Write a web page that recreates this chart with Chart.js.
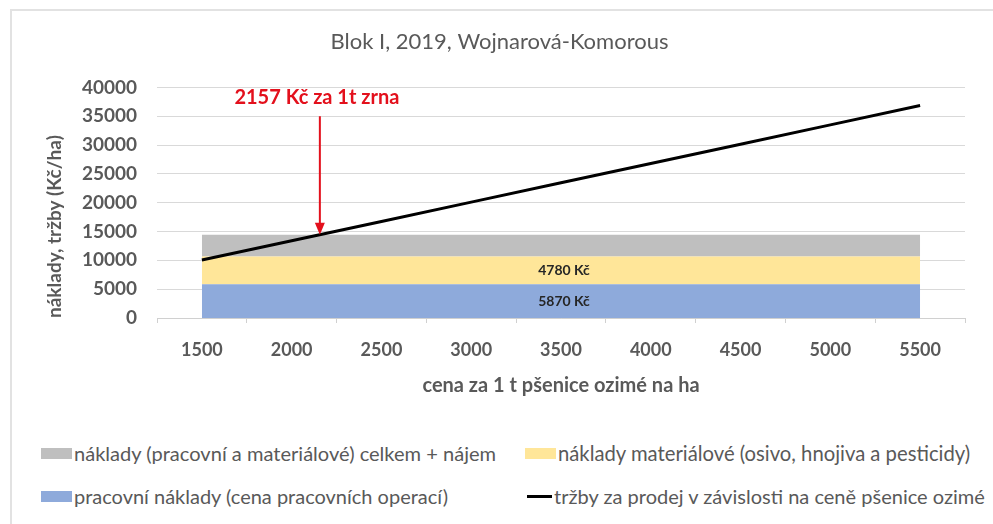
<!DOCTYPE html>
<html>
<head>
<meta charset="utf-8">
<script src="https://cdn.jsdelivr.net/npm/chart.js@4.4.1/dist/chart.umd.min.js"></script>
<style>
  html, body { margin: 0; padding: 0; background: #ffffff; width: 993px; height: 524px; overflow: hidden; }
  #frame { position: absolute; left: 10px; top: 9px; width: 1000px; height: 540px; border: 2px solid #e2e2e2; box-sizing: border-box; }
  #wrap { position: absolute; left: 0; top: 0; width: 993px; height: 408px; }
  .leg { position: absolute; display: flex; align-items: center; white-space: nowrap; font-family: Lato, "Open Sans", sans-serif; color: #595959; font-size: 16px; }
  .leg .box { display: inline-block; width: 31px; height: 11px; margin-right: 2px; flex: none; }
  .leg .ln { display: inline-block; width: 25px; height: 3px; background: #000; margin-right: 2px; flex: none; }
</style>
</head>
<body>
<div id="frame"></div>
<div id="wrap"><canvas id="c" width="993" height="408"></canvas></div>
<div id="legend"></div>
<script>
// ---- data ----
const categories = ['1500', '2000', '2500', '3000', '3500', '4000', '4500', '5000', '5500'];
const laborCosts = [5870, 5870, 5870, 5870, 5870, 5870, 5870, 5870, 5870];
const materialCosts = [4780, 4780, 4780, 4780, 4780, 4780, 4780, 4780, 4780];
const otherCosts = [3800, 3800, 3800, 3800, 3800, 3800, 3800, 3800, 3800];
const revenue = [10050, 13400, 16750, 20100, 23450, 26800, 30150, 33500, 36850];
const seriesNames = [
  'náklady (pracovní a materiálové) celkem + nájem',
  'náklady materiálové (osivo, hnojiva a pesticidy)',
  'pracovní náklady (cena pracovních operací)',
  'tržby za prodej v závislosti na ceně pšenice ozimé'
];
const breakEvenPrice = 2157;
const breakEvenText = '2157 Kč za 1t zrna';
const labelCategory = '3500';
const chartTitle = 'Blok I, 2019, Wojnarová-Komorous';
const yAxisTitle = 'náklady, tržby (Kč/ha)';
const xAxisTitle = 'cena za 1 t pšenice ozimé na ha';

const colGray = '#bfbfbf', colYellow = '#ffe699', colBlue = '#8eaadb', colText = '#595959', colRed = '#e3101c';

const annotationPlugin = {
  id: 'annot',
  afterDatasetsDraw(chart) {
    const ctx = chart.ctx;
    const xs = chart.scales.x, ys = chart.scales.y;
    // data labels in the middle of the stacked areas
    const i = categories.indexOf(labelCategory);
    const cx = xs.getPixelForValue(i);
    ctx.save();
    ctx.font = 'bold 14px Lato, sans-serif';
    ctx.fillStyle = '#262626';
    ctx.textAlign = 'center';
    ctx.textBaseline = 'middle';
    ctx.fillText(laborCosts[i] + ' Kč', cx + 3, ys.getPixelForValue(laborCosts[i] / 2));
    ctx.fillText(materialCosts[i] + ' Kč', cx + 3, ys.getPixelForValue(laborCosts[i] + materialCosts[i] / 2));
    // break-even arrow
    const idx = (breakEvenPrice - Number(categories[0])) / (Number(categories[1]) - Number(categories[0]));
    const ax = xs.getPixelForValue(idx);
    const total = laborCosts[0] + materialCosts[0] + otherCosts[0];
    const yEnd = ys.getPixelForValue(total);
    const yStart = ys.getPixelForValue(35000);
    ctx.strokeStyle = colRed;
    ctx.fillStyle = colRed;
    ctx.lineWidth = 2;
    ctx.beginPath();
    ctx.moveTo(ax, yStart);
    ctx.lineTo(ax, yEnd - 10);
    ctx.stroke();
    ctx.beginPath();
    ctx.moveTo(ax - 5, yEnd - 12);
    ctx.lineTo(ax + 5, yEnd - 12);
    ctx.lineTo(ax, yEnd);
    ctx.closePath();
    ctx.fill();
    ctx.font = 'bold 20px Lato, sans-serif';
    ctx.fillText(breakEvenText, ax - 3, ys.getPixelForValue(38300));
    ctx.restore();
  }
};

const chart = new Chart(document.getElementById('c'), {
  type: 'line',
  data: {
    labels: categories,
    datasets: [
      { label: seriesNames[3], data: revenue, stack: 'rev', borderColor: '#000000', borderWidth: 3, pointRadius: 0, fill: false, tension: 0 },
      { label: seriesNames[2], data: laborCosts, stack: 'cost', backgroundColor: colBlue, borderWidth: 0, pointRadius: 0, fill: 'origin' },
      { label: seriesNames[1], data: materialCosts, stack: 'cost', backgroundColor: colYellow, borderWidth: 0, pointRadius: 0, fill: '-1' },
      { label: seriesNames[0], data: otherCosts, stack: 'cost', backgroundColor: colGray, borderWidth: 0, pointRadius: 0, fill: '-1' }
    ]
  },
  options: {
    responsive: false,
    animation: false,
    events: [],
    layout: { padding: { left: 34, right: 28, top: 0, bottom: 0 } },
    plugins: {
      legend: { display: false },
      tooltip: { enabled: false },
      title: {
        display: true, text: chartTitle, color: colText,
        font: { family: 'Lato', size: 22, weight: 'normal' },
        padding: { top: 29, bottom: 32 }
      }
    },
    scales: {
      x: {
        type: 'category',
        offset: true,
        grid: { display: true, offset: true, drawOnChartArea: false, drawTicks: true, tickLength: 5, color: '#d0d0d0' },
        border: { display: true, color: '#d0d0d0', width: 1 },
        ticks: { color: colText, font: { family: 'Lato', size: 18, weight: 'bold' }, padding: 16, maxRotation: 0 },
        title: { display: true, text: xAxisTitle, color: colText, font: { family: 'Lato', size: 20, weight: 'bold' }, padding: { top: 0, bottom: 10 } },
        afterFit(s) { s.height = 90; }
      },
      y: {
        stacked: true,
        min: 0, max: 40000,
        ticks: { stepSize: 5000, color: colText, font: { family: 'Lato', size: 19, weight: 'bold' }, padding: 20, callback: (v) => String(v) },
        grid: { color: '#d9d9d9', drawTicks: false },
        border: { display: false },
        title: { display: true, align: 'start', text: yAxisTitle, color: colText, font: { family: 'Lato', size: 19, weight: 'bold' }, padding: { top: 9, bottom: 0 } },
        afterFit(s) { s.width = 123; }
      }
    }
  },
  plugins: [annotationPlugin]
});

// ---- legend as HTML text ----
const legendItems = [
  { name: seriesNames[0], kind: 'box', color: colGray, left: 41, top: 453, w: 422 },
  { name: seriesNames[1], kind: 'box', color: colYellow, left: 525, top: 453, w: 412 },
  { name: seriesNames[2], kind: 'box', color: colBlue, left: 41, top: 496, w: 374 },
  { name: seriesNames[3], kind: 'ln', color: '#000', left: 527, top: 496, w: 431 }
];
const legendEl = document.getElementById('legend');
legendItems.forEach(it => {
  const d = document.createElement('div');
  d.className = 'leg';
  d.style.left = it.left + 'px';
  d.style.top = (it.top - 10) + 'px';
  d.style.height = '20px';
  const m = document.createElement('span');
  m.className = it.kind;
  if (it.kind === 'box') m.style.background = it.color;
  const t = document.createElement('span');
  t.className = 't';
  t.textContent = it.name;
  t.dataset.w = it.w;
  d.appendChild(m); d.appendChild(t);
  legendEl.appendChild(d);
});
function fitLegend() {
  document.querySelectorAll('.leg .t').forEach(t => {
    const w = t.getBoundingClientRect().width;
    const cur = parseFloat(getComputedStyle(t).fontSize);
    if (w > 0) t.style.fontSize = (cur * Number(t.dataset.w) / w).toFixed(2) + 'px';
  });
}
fitLegend();
if (document.fonts && document.fonts.ready) document.fonts.ready.then(() => { fitLegend(); chart.update(); });
</script>
</body>
</html>
